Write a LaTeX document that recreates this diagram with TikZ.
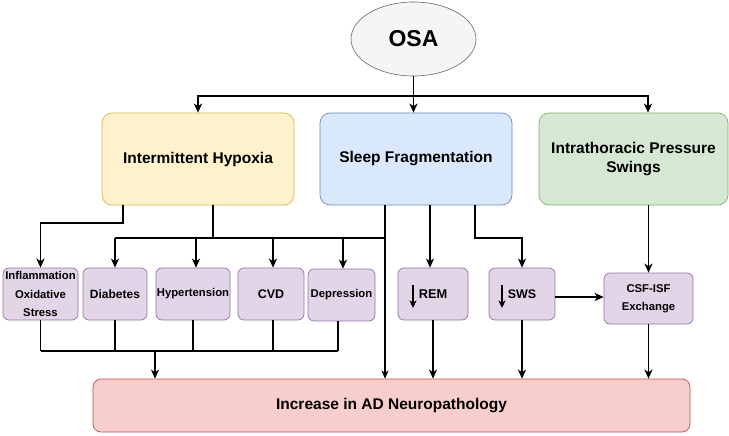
\documentclass[tikz,border=0pt]{standalone}
\usepackage{fontspec}
\setmainfont{Liberation Sans}
\usetikzlibrary{arrows.meta,shapes.geometric}
\definecolor{osaF}{HTML}{F5F5F5}\definecolor{osaD}{HTML}{666666}
\definecolor{ylwF}{HTML}{FFF2CC}\definecolor{ylwD}{HTML}{D6B656}
\definecolor{bluF}{HTML}{DAE8FC}\definecolor{bluD}{HTML}{6C8EBF}
\definecolor{grnF}{HTML}{D5E8D4}\definecolor{grnD}{HTML}{82B366}
\definecolor{purF}{HTML}{E1D5E7}\definecolor{purD}{HTML}{9673A6}
\definecolor{redF}{HTML}{F8CECC}\definecolor{redD}{HTML}{B85450}
\begin{document}
\begin{tikzpicture}[x=1pt,y=-1pt,
  bigbox/.style={draw, rounded corners=10pt, line width=0.7pt, align=center, inner sep=0pt,
    minimum height=92pt, font=\bfseries\fontsize{15.5}{19}\selectfont},
  sbox/.style={draw=purD, fill=purF, rounded corners=6pt, line width=0.7pt, align=center, inner sep=0pt,
    minimum height=52pt, font=\bfseries\fontsize{11.3}{18.5}\selectfont},
  ln/.style={line width=1.9pt},
  tln/.style={line width=1.1pt},
  arr/.style={line width=1.9pt, -{Stealth[length=9pt,width=8pt,inset=2.5pt]}},
  tarr/.style={line width=1.1pt, -{Stealth[length=8pt,width=7pt,inset=2pt]}},
  darr/.style={line width=1.6pt, -{Stealth[length=7.5pt,width=7pt,inset=2pt]}}
]
\useasboundingbox (0,0) rectangle (729,436);

% nodes
\node[ellipse, draw=osaD, fill=osaF, line width=0.6pt, inner sep=0pt, minimum width=125pt, minimum height=74pt,
  font=\bfseries\fontsize{23}{28}\selectfont] (osa) at (413.5,39) {OSA};
\node[bigbox, draw=ylwD, fill=ylwF, minimum width=192pt] (ih) at (198,159) {Intermittent Hypoxia};
\node[bigbox, draw=bluD, fill=bluF, minimum width=192pt] (sf) at (416,159) {Sleep Fragmentation};
\node[bigbox, draw=grnD, fill=grnF, minimum width=189pt] (ips) at (633.5,159) {Intrathoracic Pressure\\Swings};

\node[sbox, minimum width=75pt] (infl) at (40.5,294) {Inflammation\\Oxidative\\Stress};
\node[sbox, minimum width=64pt, font=\bfseries\fontsize{12}{14}\selectfont] (diab) at (115,294) {Diabetes};
\node[sbox, minimum width=74pt] (hyp) at (193,294) {Hypertension};
\node[sbox, minimum width=66pt, font=\bfseries\fontsize{12.5}{14}\selectfont] (cvd) at (271,294) {CVD};
\node[sbox, minimum width=67pt] (dep) at (341.5,295) {Depression};
\node[sbox, minimum width=70pt, font=\bfseries\fontsize{12.8}{15}\selectfont] (rem) at (433,294) {REM};
\node[sbox, minimum width=66pt, font=\bfseries\fontsize{12.5}{15}\selectfont] (sws) at (522,294) {SWS};
\node[sbox, minimum width=89pt, minimum height=51pt, font=\bfseries\fontsize{11.3}{18}\selectfont] (csf) at (648.5,298.5) {CSF-ISF\\Exchange};

\node[draw=redD, fill=redF, rounded corners=8pt, line width=0.7pt, inner sep=0pt, minimum width=597pt, minimum height=53pt,
  font=\bfseries\fontsize{15.5}{19}\selectfont] (ad) at (391.5,405.5) {Increase in AD Neuropathology};

% down arrows inside REM / SWS
\draw[darr] ([xshift=-20pt,yshift=9pt]rem.center) -- ++(0,23);
\draw[darr] ([xshift=-20pt,yshift=9pt]sws.center) -- ++(0,23);

% OSA to mechanisms
\coordinate (j0) at (413.5,96);
\draw[ln] (osa.south) -- (j0);
\draw[arr] (j0) -| (ih.north);
\draw[arr] (j0) -- (j0 |- sf.north);
\draw[arr] (j0) -| ([xshift=14.5pt]ips.north);

% Intermittent hypoxia
\draw[arr] ([xshift=-75pt]ih.south) -- ++(0,18) -| (infl.north);
\coordinate (sfx) at ([xshift=-31pt]sf.south);
\coordinate (j1) at ([xshift=15pt,yshift=-33pt]ih.south);
\draw[ln] ([xshift=15pt]ih.south) -- (j1);
\draw[ln] (diab.north |- j1) -- (sfx |- j1);
\draw[arr] (diab.north |- j1) -- (diab.north);
\draw[arr] ([xshift=3pt]hyp.north |- j1) -- ([xshift=3pt]hyp.north);
\draw[arr] ([xshift=2pt]cvd.north |- j1) -- ([xshift=2pt]cvd.north);
\draw[arr] ([xshift=1.5pt]dep.north |- j1) -- ([xshift=1.5pt]dep.north);

% Sleep fragmentation
\draw[tarr] (sfx) -- (sfx |- ad.north);
\draw[arr] ([xshift=-3pt]rem.north |- sf.south) -- ([xshift=-3pt]rem.north);
\draw[arr] ([xshift=59pt]sf.south) -- ++(0,33) -| (sws.north);

% SWS to CSF, IPS to CSF
\draw[arr] ([yshift=-3pt]sws.east) -- ([yshift=-3pt]sws.east -| csf.west);
\draw[arr] (csf.north |- ips.south) -- (csf.north);

% to AD
\coordinate (j2) at (155,351);
\draw[tln] (infl.south) -- (infl.south |- j2);
\draw[ln] (diab.south) -- (diab.south |- j2);
\draw[tln] (hyp.south) -- (hyp.south |- j2);
\draw[ln] ([xshift=2pt]cvd.south) -- ([xshift=2pt]cvd.south |- j2);
\draw[ln] ([xshift=-3.5pt]dep.south) -- ([xshift=-3.5pt]dep.south |- j2);
\draw[ln] (infl.south |- j2) -- ([xshift=-3.5pt]dep.south |- j2);
\draw[arr] (j2) -- (j2 |- ad.north);
\draw[arr] (rem.south) -- (rem.south |- ad.north);
\draw[arr] (sws.south) -- (sws.south |- ad.north);
\draw[arr] (csf.south) -- (csf.south |- ad.north);
\end{tikzpicture}
\end{document}
